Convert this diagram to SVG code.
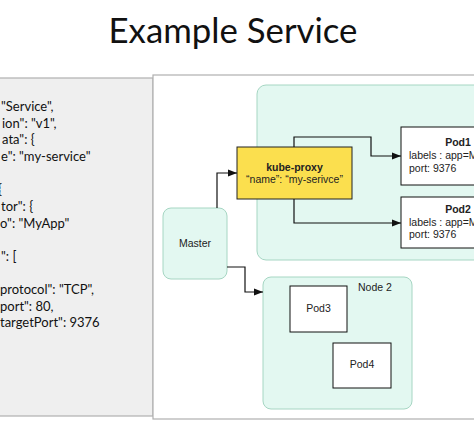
<svg xmlns="http://www.w3.org/2000/svg" width="474" height="430" viewBox="0 0 474 430">
  <style>
    .title { font-family: Lato, "Liberation Sans", sans-serif; font-size: 34px; fill: #111; }
    .json { font-family: Lato, "Liberation Sans", sans-serif; font-size: 13px; fill: #111; }
    .lbl { font-family: "Liberation Sans", Arial, sans-serif; font-size: 10.5px; fill: #222; }
    .bold { font-weight: bold; }
    .node { fill: #e3f8f1; stroke: #a6d6c3; stroke-width: 1; }
    .pod { fill: #ffffff; stroke: #111; stroke-width: 1; }
    .wire { fill: none; stroke: #111; stroke-width: 1.2; }
  </style>
  <defs>
    <marker id="arrow" viewBox="0 0 10 10" refX="10" refY="5" markerWidth="9" markerHeight="9" markerUnits="userSpaceOnUse" orient="auto">
      <path d="M0,1 L10,5 L0,9 Z" fill="#111"/>
    </marker>
    <clipPath id="jsonClip"><rect x="0" y="78" width="153" height="338"/></clipPath>
    <clipPath id="stageClip"><rect x="153" y="75" width="321" height="344"/></clipPath>
  </defs>

  <rect width="474" height="430" fill="#ffffff"/>

  <text class="title" x="233" y="43" text-anchor="middle" textLength="249" lengthAdjust="spacingAndGlyphs">Example Service</text>

  <!-- JSON definition panel -->
  <g id="json-panel">
    <rect x="-2" y="78" width="155" height="338" fill="#efefef" stroke="#b0b0b0" stroke-width="1.2"/>
    <g clip-path="url(#jsonClip)" class="json">
      <text x="1" y="111">"Service",</text>
      <text x="2" y="128">ion": "v1",</text>
      <text x="2" y="144">ata": {</text>
      <text x="1" y="161">e": "my-service"</text>
      <text x="-2" y="194">{</text>
      <text x="1" y="211">tor": {</text>
      <text x="0" y="228">o": "MyApp"</text>
      <text x="1" y="261">": [</text>
      <text x="0" y="294">protocol": "TCP",</text>
      <text x="0" y="311">port": 80,</text>
      <text x="0" y="327">targetPort": 9376</text>
    </g>
  </g>

  <!-- cluster drawing -->
  <rect x="153" y="75" width="330" height="344" fill="#ffffff" stroke="#b0b0b0" stroke-width="1.2"/>
  <g clip-path="url(#stageClip)">
    <g id="node1">
      <rect class="node" x="257" y="85" width="240" height="175" rx="9"/>
    </g>

    <g id="node2">
      <rect class="node" x="263" y="277" width="149" height="132" rx="8"/>
      <text class="lbl" x="358" y="291">Node 2</text>
    </g>

    <g id="master">
      <rect class="node" x="163" y="208" width="64" height="71" rx="8"/>
      <text class="lbl" x="195" y="247" text-anchor="middle">Master</text>
    </g>

    <g id="kube-proxy">
      <rect x="237" y="147" width="115" height="52" fill="#fbdf4e" stroke="#222" stroke-width="1"/>
      <text class="lbl bold" x="294.5" y="171" text-anchor="middle">kube-proxy</text>
      <text class="lbl" x="294.5" y="183" text-anchor="middle">“name”: “my-serivce”</text>
    </g>

    <g id="pod1">
      <rect class="pod" x="401" y="127" width="90" height="58"/>
      <text class="lbl bold" x="458" y="146" text-anchor="middle">Pod1</text>
      <text class="lbl" x="409" y="159">labels : app=M</text>
      <text class="lbl" x="409" y="172">port: 9376</text>
    </g>

    <g id="pod2">
      <rect class="pod" x="401" y="197" width="90" height="51"/>
      <text class="lbl bold" x="458" y="213" text-anchor="middle">Pod2</text>
      <text class="lbl" x="409" y="226">labels : app=M</text>
      <text class="lbl" x="409" y="238">port: 9376</text>
    </g>

    <g id="pod3">
      <rect class="pod" x="290" y="286" width="57" height="46"/>
      <text class="lbl" x="318.5" y="312" text-anchor="middle">Pod3</text>
    </g>

    <g id="pod4">
      <rect class="pod" x="333" y="343" width="58" height="45"/>
      <text class="lbl" x="362" y="368" text-anchor="middle">Pod4</text>
    </g>

    <g id="connectors">
      <polyline class="wire" points="217,208 217,173 237,173" marker-end="url(#arrow)"/>
      <polyline class="wire" points="294,147 294,137 371,137 371,156 401,156" marker-end="url(#arrow)"/>
      <polyline class="wire" points="294,199 294,223 401,223" marker-end="url(#arrow)"/>
      <polyline class="wire" points="227,267 245,267 245,292 263,292" marker-end="url(#arrow)"/>
    </g>
  </g>
</svg>
